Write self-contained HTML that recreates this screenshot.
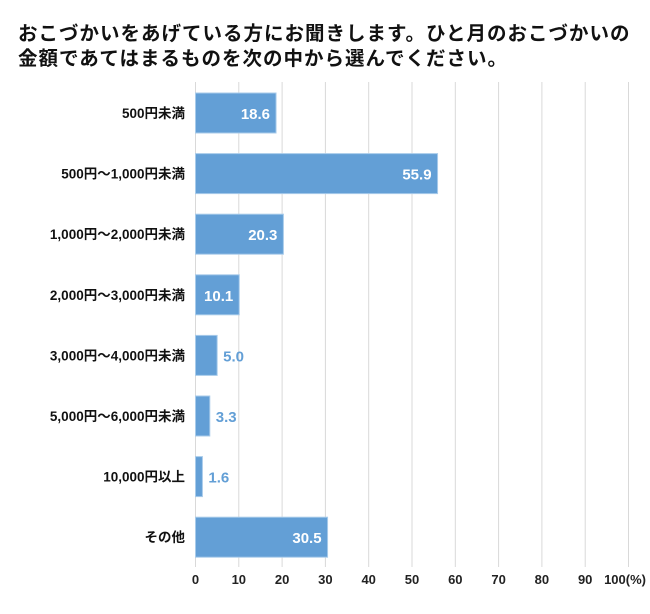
<!DOCTYPE html>
<html><head><meta charset="utf-8"><style>
body{margin:0;background:#fff;}
svg{display:block;font-family:"Liberation Sans","Noto Sans CJK JP",sans-serif;}
</style></head><body>
<svg width="650" height="614">
<text x="18" y="40" font-size="19.5" letter-spacing="1.0" font-weight="bold" fill="#111">おこづかいをあげている方にお聞きします。ひと月のおこづかいの</text>
<text x="18" y="65" font-size="19.5" letter-spacing="1.0" font-weight="bold" fill="#111">金額であてはまるものを次の中から選んでください。</text>
<g id="grid"></g><g id="bars"></g><g id="labels"></g>
</svg>
<script>
const categories=["500円未満","500円～1,000円未満","1,000円～2,000円未満","2,000円～3,000円未満","3,000円～4,000円未満","5,000円～6,000円未満","10,000円以上","その他"];
const values=[18.6,55.9,20.3,10.1,5.0,3.3,1.6,30.5];
const ticks=[0,10,20,30,40,50,60,70,80,90,100];
const ns="http://www.w3.org/2000/svg";
const x0=195.5,x1=628.5,plotTop=82,rowH=60.6,barH=40;
const xs=v=>x0+(x1-x0)*v/100;
const yc=i=>plotTop+31+i*rowH;
function mk(t,a,p){const e=document.createElementNS(ns,t);for(const k in a)e.setAttribute(k,a[k]);p.appendChild(e);return e;}
const grid=document.getElementById('grid'),bars=document.getElementById('bars'),labs=document.getElementById('labels');
ticks.forEach(t=>{
 const l=mk('line',{x1:xs(t),x2:xs(t),y1:plotTop,y2:567,stroke:"#d9d9d9","stroke-width":1},grid);
 
 
 const tx=mk('text',{x:xs(t),y:584,"font-size":13,"font-weight":"bold","text-anchor":"middle",fill:"#222"},grid);
 tx.textContent=t===100?"100(%)":t;
 if(t===100){tx.setAttribute('x',646);tx.setAttribute('text-anchor','end');}
 
 
});
categories.forEach((c,i)=>{
 const y=yc(i);
 const r=mk('rect',{x:x0,y:y-barH/2,width:xs(values[i])-x0,height:barH,fill:"#639fd6",stroke:"#a8cbea","stroke-width":1},bars);
 
 
 const cl=mk('text',{x:185,y:y+5,"font-size":13.5,"font-weight":"bold","text-anchor":"end",fill:"#111"},labs);
 cl.textContent=c;
 
 
 const inside=values[i]>=10;
 const vl=mk('text',{x:inside?xs(values[i])-6:xs(values[i])+6,y:y+6,"font-size":15,"font-weight":"bold","text-anchor":inside?"end":"start",fill:inside?"#fff":"#639fd6"},labs);
 vl.textContent=values[i].toFixed(1);
 
 
});
</script>
</body></html>
